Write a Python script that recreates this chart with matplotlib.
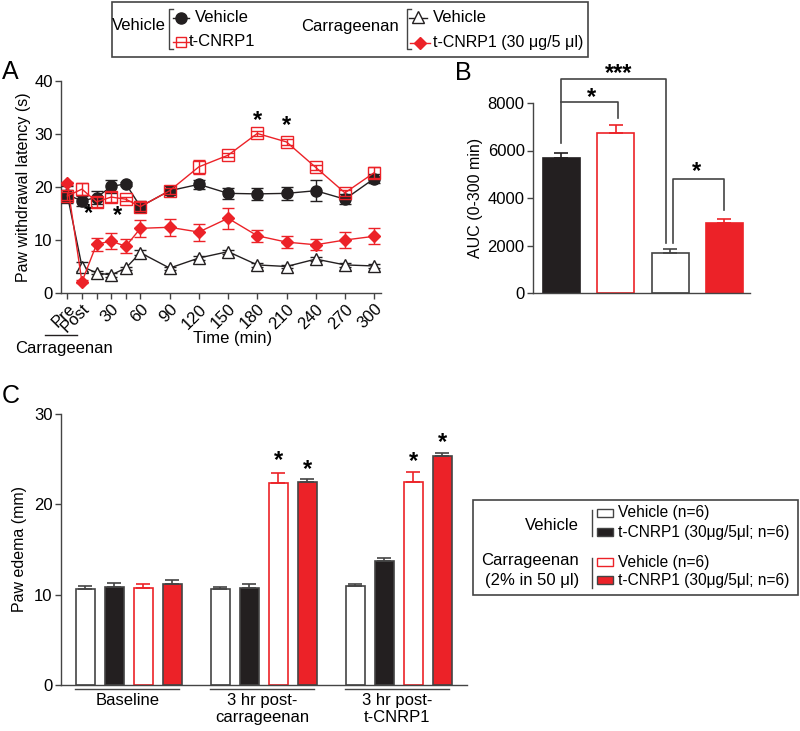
import numpy as np
import matplotlib
matplotlib.use("Agg")
import matplotlib.pyplot as plt
from matplotlib.patches import Rectangle
import matplotlib.transforms as mtransforms

plt.rcParams['font.family'] = ['Liberation Sans', 'DejaVu Sans']
plt.rcParams['font.size'] = 10
plt.rcParams['axes.linewidth'] = 1.0

RED = '#ec2228'
BLK = '#231f20'
GRY = '#444444'

# ---- data, panel A (paw withdrawal latency, s) ----
time_pts = [-15, 0, 15, 30, 45, 60, 90, 120, 150, 180, 210, 240, 270, 300]
time_labels = ['Pre', 'Post', '', '30', '', '60', '90', '120', '150', '180', '210', '240', '270', '300']
veh_veh = [18.5, 17.4, 18.0, 20.1, 20.6, 16.3, 19.3, 20.5, 18.8, 18.7, 18.8, 19.3, 17.7, 21.6]
veh_veh_err = [1.6, 0.9, 1.3, 1.2, 0.4, 1.0, 0.8, 0.9, 1.1, 1.2, 1.2, 2.0, 1.0, 0.9]
veh_cnrp = [18.3, 19.6, 17.2, 18.1, 17.7, 16.3, 19.3, 23.8, 26.0, 30.1, 28.5, 23.7, 18.9, 22.7]
veh_cnrp_err = [0.8, 1.1, 1.0, 1.0, 0.4, 0.8, 0.6, 1.3, 0.4, 0.4, 0.6, 0.5, 0.6, 1.0]
car_veh = [18.5, 5.0, 3.8, 3.4, 4.7, 7.6, 4.7, 6.6, 7.8, 5.3, 5.0, 6.4, 5.3, 5.1]
car_veh_err = [1.0, 0.8, 0.3, 0.3, 0.3, 0.5, 0.3, 0.4, 0.4, 0.3, 0.3, 0.3, 0.3, 0.3]
car_cnrp = [20.7, 2.1, 9.2, 9.8, 8.8, 12.2, 12.4, 11.5, 14.1, 10.8, 9.6, 9.1, 10.0, 10.7]
car_cnrp_err = [0.3, 0.3, 1.2, 1.5, 1.3, 1.6, 1.6, 1.6, 2.0, 1.1, 1.2, 1.0, 1.6, 1.5]
stars_a = [(7, 15.0), (37, 14.6), (180, 32.6), (210, 31.6)]

# ---- data, panel B (AUC 0-300 min) ----
auc = [5700, 6750, 1680, 2950]
auc_err = [200, 330, 170, 170]

# ---- data, panel C (paw edema, mm) ----
groups_c = ['Baseline', '3 hr post-\ncarrageenan', '3 hr post-\nt-CNRP1']
edema_veh_veh = [10.63, 10.63, 10.96]
edema_veh_veh_err = [0.33, 0.27, 0.24]
edema_veh_cnrp = [10.85, 10.74, 13.7]
edema_veh_cnrp_err = [0.45, 0.46, 0.37]
edema_car_veh = [10.74, 22.4, 22.5]
edema_car_veh_err = [0.46, 1.07, 1.1]
edema_car_cnrp = [11.18, 22.5, 25.35]
edema_car_cnrp_err = [0.48, 0.26, 0.37]

W, H = 800, 731
FS = 12
fig = plt.figure(figsize=(W / 100, H / 100), dpi=100)


def box(l, r, t, b):
    return [l / W, 1 - b / H, (r - l) / W, (b - t) / H]


def style(ax):
    for s in ['top', 'right']:
        ax.spines[s].set_visible(False)
    for s in ['left', 'bottom']:
        ax.spines[s].set_color(GRY)
    ax.tick_params(direction='out', length=4, width=1, color=GRY, labelsize=FS, pad=2)


# ================= Panel A =================
axA = fig.add_axes(box(61, 381, 81, 293))
style(axA)
axA.errorbar(time_pts, car_veh, yerr=car_veh_err, color=BLK, lw=1, marker='^', ms=8,
             mfc='white', mec=BLK, capsize=4, elinewidth=1, zorder=3)
axA.errorbar(time_pts, veh_veh, yerr=veh_veh_err, color=BLK, lw=1, marker='o', ms=8,
             mfc=BLK, mec=BLK, capsize=4, elinewidth=1, zorder=4)
axA.errorbar(time_pts, veh_cnrp, yerr=veh_cnrp_err, color=RED, lw=1, marker='s', ms=8,
             mfc='none', mec=RED, capsize=4, elinewidth=1, zorder=5)
axA.errorbar(time_pts, car_cnrp, yerr=car_cnrp_err, color=RED, lw=1, marker='D', ms=6,
             mfc=RED, mec=RED, capsize=4, elinewidth=1, zorder=6)
for x, y in stars_a:
    axA.text(x, y, '*', ha='center', va='center', fontsize=17, fontweight='bold')
axA.set_xlim(-21.5, 307)
axA.set_ylim(0, 40)
axA.set_yticks([0, 10, 20, 30, 40])
axA.set_xticks(time_pts)
axA.set_xticklabels(time_labels, rotation=45, ha='right', rotation_mode='anchor')
axA.set_ylabel('Paw withdrawal latency (s)', fontsize=11.5, labelpad=2)

# ================= Panel B =================
axB = fig.add_axes(box(533, 750, 103, 293))
style(axB)
xb = np.arange(4)
b_face = [BLK, 'white', 'white', RED]
b_edge = [BLK, RED, GRY, RED]
for i in range(4):
    axB.bar(xb[i], auc[i], width=0.68, color=b_face[i], edgecolor=b_edge[i], lw=1.2)
    axB.errorbar(xb[i], auc[i], yerr=[[0], [auc_err[i]]], color=b_edge[i], capsize=5,
                 elinewidth=1.2, capthick=1.2)
axB.set_xlim(-0.52, 3.47)
axB.set_ylim(0, 8000)
axB.set_xticks([])
axB.set_yticks([0, 2000, 4000, 6000, 8000])
axB.set_ylabel('AUC (0-300 min)', fontsize=11.5, labelpad=3)
bk = dict(color=GRY, lw=1.2, clip_on=False)
axB.plot([0, 0, 1.93, 1.93], [6316, 9000, 9000, 2118], **bk)
axB.plot([0, 1.05, 1.05], [8055, 8055, 7355], **bk)
axB.plot([2.05, 2.05, 2.99, 2.99], [2105, 4787, 4787, 3495], **bk)
axB.text(0.55, 8250, '*', ha='center', va='center', fontsize=17, fontweight='bold')
axB.text(1.05, 9250, '***', ha='center', va='center', fontsize=17, fontweight='bold')
axB.text(2.48, 5100, '*', ha='center', va='center', fontsize=17, fontweight='bold')

# ================= Panel C =================
axC = fig.add_axes(box(61, 467, 414, 685))
style(axC)
gap = 4.655
series_c = [(edema_veh_veh, edema_veh_veh_err, 'white', GRY),
            (edema_veh_cnrp, edema_veh_cnrp_err, BLK, GRY),
            (edema_car_veh, edema_car_veh_err, 'white', RED),
            (edema_car_cnrp, edema_car_cnrp_err, RED, GRY)]
for i, (vals, errs, fc, ec) in enumerate(series_c):
    xs = np.arange(3) * gap + i
    axC.bar(xs, vals, width=0.68, color=fc, edgecolor=ec, lw=1.2)
    axC.errorbar(xs, vals, yerr=[np.zeros(3), errs], fmt='none', ecolor=ec, capsize=5,
                 elinewidth=1.2, capthick=1.2)
stars_c = [(gap + 2, 24.9), (gap + 3, 23.8), (2 * gap + 2, 24.7), (2 * gap + 3, 26.8)]
for x, y in stars_c:
    axC.text(x, y, '*', ha='center', va='center', fontsize=17, fontweight='bold')
axC.set_xlim(-0.845, 13.16)
axC.set_ylim(0, 30)
axC.set_yticks([0, 10, 20, 30])
axC.set_xticks([])
axC.set_ylabel('Paw edema (mm)', fontsize=11.5, labelpad=5)
trC = mtransforms.blended_transform_factory(axC.transData, axC.transAxes)
for g, lab in enumerate(groups_c):
    axC.plot([g * gap - 0.36, g * gap + 3.22], [-0.016, -0.016], color=GRY, lw=1,
             transform=trC, clip_on=False)
    axC.text(g * gap + 1.45, -0.03, lab, transform=trC, ha='center', va='top',
             fontsize=FS, linespacing=1.15)

# ================= overlay (letters, legends) =================
ov = fig.add_axes([0, 0, 1, 1])
ov.set_xlim(0, W)
ov.set_ylim(H, 0)
ov.axis('off')
ov.patch.set_alpha(0)

for s, x, y in [('A', 10, 72), ('B', 463, 73), ('C', 11, 396)]:
    ov.text(x, y, s, fontsize=18, ha='center', va='center')

ov.text(233, 339, 'Time (min)', fontsize=FS, ha='center', va='center')
ov.plot([45, 77], [335, 335], color=BLK, lw=1)
ov.text(64, 349, 'Carrageenan', fontsize=FS, ha='center', va='center')

# top legend
ov.add_patch(Rectangle((112, 2), 476, 55, fill=False, ec=GRY, lw=1.2))
ov.text(112, 26, 'Vehicle', fontsize=FS, va='center')
ov.text(301, 27, 'Carrageenan', fontsize=FS, va='center')
for bx in [169, 407]:
    ov.plot([bx + 4, bx, bx, bx + 4], [9, 9, 49, 49], color=GRY, lw=1)
ov.plot([173, 189], [18, 18], color=BLK, lw=1)
ov.plot([181], [18], marker='o', ms=8, color=BLK)
ov.plot([173, 189], [42, 42], color=RED, lw=1)
ov.plot([181], [42], marker='s', ms=7, mfc='none', mec=RED)
ov.plot([409, 427], [18, 18], color=BLK, lw=1)
ov.plot([418], [17], marker='^', ms=8, mfc='white', mec=BLK)
ov.plot([410, 430], [43, 43], color=RED, lw=1)
ov.plot([420], [43], marker='D', ms=6, color=RED)
ov.text(195, 17, 'Vehicle', fontsize=FS, va='center')
ov.text(189, 42, 't-CNRP1', fontsize=FS, va='center')
ov.text(433, 17, 'Vehicle', fontsize=FS, va='center')
ov.text(433, 43, 't-CNRP1 (30 \u03bcg/5 \u03bcl)', fontsize=11.5, va='center')

# panel C legend
ov.add_patch(Rectangle((473, 500), 325, 95, fill=False, ec=GRY, lw=1.2))
ov.text(579, 525, 'Vehicle', fontsize=FS, ha='right', va='center')
ov.text(579, 560, 'Carrageenan', fontsize=FS, ha='right', va='center')
ov.text(579, 580, '(2% in 50 \u03bcl)', fontsize=FS, ha='right', va='center')
ov.plot([592, 592], [510, 536], color=GRY, lw=1)
ov.plot([592, 592], [558, 588], color=GRY, lw=1)
leg_c = [(513, 'white', GRY, 'Vehicle (n=6)'),
         (532, BLK, GRY, 't-CNRP1 (30\u03bcg/5\u03bcl; n=6)'),
         (562, 'white', RED, 'Vehicle (n=6)'),
         (580, RED, GRY, 't-CNRP1 (30\u03bcg/5\u03bcl; n=6)')]
for y, fc, ec, lab in leg_c:
    ov.add_patch(Rectangle((597, y - 4), 16, 8, fc=fc, ec=ec, lw=1))
    ov.text(618, y, lab, fontsize=11.2, va='center')

fig.savefig('out.png', dpi=100)
